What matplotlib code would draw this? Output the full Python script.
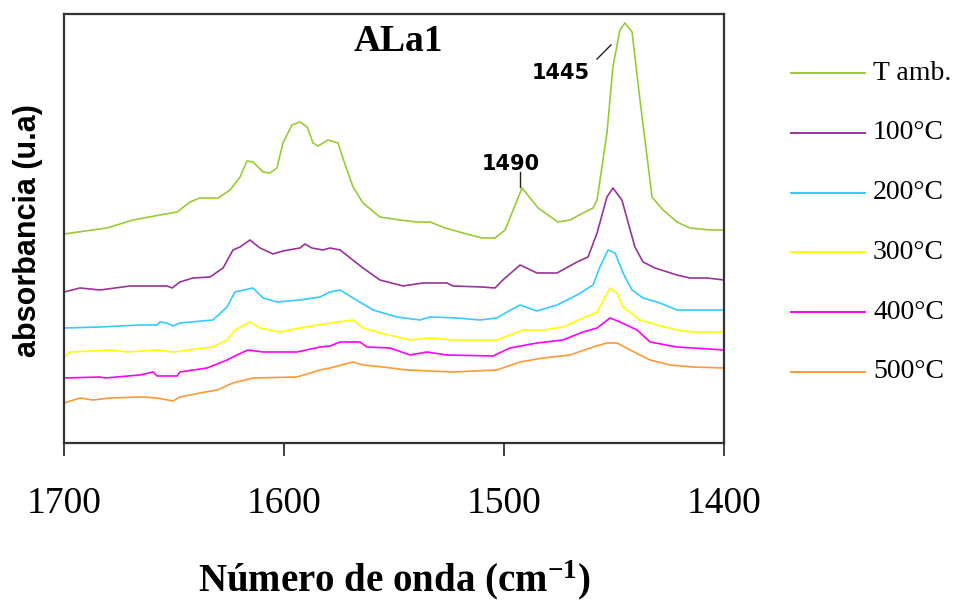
import matplotlib
matplotlib.use("Agg")
import matplotlib.pyplot as plt
from matplotlib.lines import Line2D

# --- data (wavenumber in cm-1, absorbance in a.u.) ---
wn_amb = [1700, 1680.5, 1668.6, 1656.4, 1648.6, 1642.7, 1638.2, 1630, 1624.5, 1620,
          1616.8, 1614.1, 1609.5, 1606.4, 1603.2, 1600.5, 1596.4, 1592.7, 1589.5, 1586.8,
          1584.5, 1580, 1575.5, 1571.4, 1568.6, 1564.1, 1556.4, 1547.3, 1539.5, 1533.6,
          1526.8, 1518.6, 1510, 1504.1, 1499.5, 1491.8, 1484.5, 1475.5, 1470, 1464.1,
          1459.5, 1457.7, 1453.2, 1450.5, 1447.3, 1445, 1441.8, 1438.2, 1432.7, 1427.7,
          1421.4, 1415.5, 1406.4, 1400]
ab_amb = [2.09, 2.15, 2.23, 2.28, 2.31, 2.41, 2.45, 2.45, 2.53, 2.66,
          2.82, 2.81, 2.71, 2.70, 2.75, 3.00, 3.18, 3.21, 3.16, 3.00,
          2.97, 3.03, 3.00, 2.73, 2.56, 2.40, 2.26, 2.23, 2.21, 2.21,
          2.15, 2.10, 2.05, 2.05, 2.13, 2.55, 2.35, 2.21, 2.23, 2.30,
          2.35, 2.43, 3.10, 3.76, 4.13, 4.20, 4.11, 3.43, 2.46, 2.33,
          2.21, 2.15, 2.13, 2.13]

wn_100 = [1700, 1692.7, 1683.6, 1670, 1653.2, 1650.9, 1647.3, 1641.4, 1633.6, 1627.7,
          1623.2, 1620, 1615.5, 1610.9, 1605, 1600.5, 1592.7, 1590.5, 1587.3, 1582.3,
          1579.1, 1574.5, 1564.1, 1556.4, 1545.9, 1536.8, 1525.9, 1523.2, 1510, 1504.1,
          1500.5, 1492.7, 1485, 1475.9, 1466.8, 1461.8, 1457.7, 1453.2, 1450.5, 1446.4,
          1440.5, 1436.8, 1431.4, 1421.4, 1415.5, 1407.7, 1400]
ab_100 = [1.51, 1.55, 1.53, 1.57, 1.57, 1.55, 1.61, 1.65, 1.66, 1.75,
          1.93, 1.96, 2.03, 1.95, 1.89, 1.92, 1.95, 1.99, 1.95, 1.93,
          1.95, 1.93, 1.75, 1.63, 1.57, 1.60, 1.60, 1.57, 1.56, 1.55,
          1.63, 1.78, 1.70, 1.70, 1.81, 1.86, 2.10, 2.46, 2.55, 2.43,
          1.96, 1.81, 1.75, 1.68, 1.65, 1.65, 1.63]

wn_200 = [1700, 1683.6, 1665.5, 1657.7, 1656.4, 1653.2, 1650.5, 1647.3, 1632.3, 1625.9,
          1622.3, 1614.1, 1609.5, 1603.2, 1592.7, 1583.6, 1579.1, 1574.5, 1568.6, 1559.5,
          1548.6, 1538.2, 1533.6, 1521.4, 1510.9, 1503.2, 1498.6, 1492.7, 1485, 1475.9,
          1466.8, 1459.5, 1456.4, 1452.7, 1449.5, 1445.9, 1441.8, 1436.8, 1429.1, 1421.4,
          1412.3, 1400]
ab_200 = [1.15, 1.16, 1.18, 1.18, 1.21, 1.20, 1.17, 1.20, 1.23, 1.36,
          1.51, 1.55, 1.45, 1.41, 1.43, 1.46, 1.51, 1.53, 1.45, 1.33,
          1.26, 1.23, 1.26, 1.25, 1.23, 1.25, 1.31, 1.38, 1.32, 1.38,
          1.48, 1.58, 1.76, 1.93, 1.90, 1.70, 1.53, 1.45, 1.40, 1.33,
          1.33, 1.33]

wn_300 = [1700, 1697.3, 1677.7, 1671.4, 1657.7, 1650.5, 1632.3, 1625.9, 1622.3, 1615.5,
          1610.9, 1601.8, 1592.7, 1579.1, 1568.6, 1564.1, 1556.4, 1542.7, 1533.6, 1523.2,
          1503.2, 1497.3, 1491.4, 1482.3, 1473.2, 1464.1, 1457.7, 1451.8, 1448.6, 1445.9,
          1438.2, 1430.5, 1421.4, 1414.1, 1400]
ab_300 = [0.86, 0.91, 0.93, 0.91, 0.93, 0.91, 0.96, 1.03, 1.13, 1.21,
          1.15, 1.11, 1.15, 1.20, 1.23, 1.15, 1.10, 1.03, 1.05, 1.03,
          1.03, 1.08, 1.13, 1.13, 1.16, 1.25, 1.31, 1.55, 1.50, 1.36,
          1.23, 1.18, 1.13, 1.11, 1.11]

wn_400 = [1700, 1683.6, 1681.4, 1665.5, 1659.5, 1657.7, 1648.6, 1647.3, 1635, 1625.9,
          1621.4, 1616.4, 1609.5, 1594.1, 1583.6, 1579.1, 1574.5, 1565.5, 1562.3, 1551.8,
          1542.7, 1535, 1525.9, 1505, 1497.3, 1485, 1473.2, 1464.1, 1457.7, 1451.8,
          1447.3, 1439.5, 1433.6, 1421.4, 1400]
ab_400 = [0.65, 0.66, 0.65, 0.68, 0.71, 0.67, 0.67, 0.71, 0.75, 0.83,
          0.88, 0.93, 0.91, 0.91, 0.96, 0.97, 1.01, 1.01, 0.96, 0.95,
          0.88, 0.91, 0.88, 0.87, 0.95, 1.00, 1.03, 1.11, 1.15, 1.25,
          1.21, 1.13, 1.01, 0.96, 0.93]

wn_500 = [1700, 1692.7, 1686.8, 1679.1, 1664.1, 1657.7, 1650.5, 1647.3, 1638.2, 1630.5,
          1623.2, 1614.1, 1594.1, 1583.6, 1579.1, 1568.6, 1564.1, 1555, 1544.1, 1523.2,
          1503.2, 1492.7, 1482.3, 1470, 1459.5, 1453.2, 1448.6, 1442.7, 1433.6, 1424.5,
          1414.1, 1400]
ab_500 = [0.40, 0.45, 0.43, 0.45, 0.46, 0.45, 0.42, 0.46, 0.50, 0.53,
          0.60, 0.65, 0.66, 0.73, 0.75, 0.81, 0.78, 0.76, 0.73, 0.71,
          0.73, 0.81, 0.85, 0.88, 0.96, 1.00, 1.00, 0.93, 0.83, 0.78,
          0.76, 0.75]

labels = ["T amb.", "100°C", "200°C", "300°C", "400°C", "500°C"]
colors = ["#99cc33", "#993399", "#33ccff", "#ffff00", "#ff00ff", "#ff9933"]
series = [(wn_amb, ab_amb), (wn_100, ab_100), (wn_200, ab_200),
          (wn_300, ab_300), (wn_400, ab_400), (wn_500, ab_500)]

xticks = [1700, 1600, 1500, 1400]

# peak annotations: label, text position, line start, line end
peak_1490 = ("1490", (1496.8, 2.79), (1492.7, 2.71), (1492.7, 2.56))
peak_1445 = ("1445", (1474.1, 3.70), (1457.7, 3.84), (1451.4, 3.98))

plt.rcParams['mathtext.fontset'] = 'custom'
plt.rcParams['mathtext.rm'] = 'Liberation Serif:bold'
plt.rcParams['mathtext.default'] = 'rm'

fig = plt.figure(figsize=(9.67, 6.08), dpi=100)
ax = fig.add_axes([0.0662, 0.2714, 0.6825, 0.7056])

for (wn, ab), c in zip(series, colors):
    ax.plot(wn, ab, color=c, lw=1.2)

ax.set_xlim(1700, 1400)
ax.set_ylim(0, 4.29)
ax.set_xticks(xticks)
ax.set_xticklabels([str(t) for t in xticks], family='Liberation Serif', fontsize=27)
ax.set_yticks([])
ax.tick_params(axis='x', direction='out', length=9.5, width=1.3, color='#333333',
               pad=22)
for sp in ax.spines.values():
    sp.set_linewidth(1.6)
    sp.set_color('#333333')

ax.set_xlabel("Número de onda (cm$^{-1}$)", family='Liberation Serif',
              fontweight='bold', fontsize=28, labelpad=27)
ax.set_ylabel("absorbancia (u.a)", family='Liberation Sans', fontweight='bold',
              fontsize=22)
ax.yaxis.set_label_coords(-0.032, 0.494)

ax.text(0.506, 0.937, "ALa1", transform=ax.transAxes, ha='center', va='center',
        family='Liberation Serif', fontweight='bold', fontsize=27)

for lab, tpos, p0, p1 in (peak_1490, peak_1445):
    ax.text(tpos[0], tpos[1], lab, ha='center', va='center', family='DejaVu Sans',
            fontweight='bold', fontsize=15)
    ax.plot([p0[0], p1[0]], [p0[1], p1[1]], color='#222222', lw=1.0)

# legend drawn at the right of the axes, one row per series
leg_y0 = 1 - 73 / 608
leg_dy = 59.8 / 608
for i, (lab, c) in enumerate(zip(labels, colors)):
    y = leg_y0 - i * leg_dy
    fig.add_artist(Line2D([791 / 967, 865 / 967], [y, y], color=c, lw=1.4))
    fig.text(873 / 967, y, lab, ha='left', va='center', family='Liberation Serif',
             fontsize=20)

fig.savefig("out.png", dpi=100)
